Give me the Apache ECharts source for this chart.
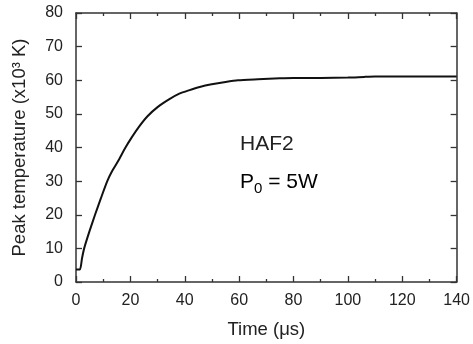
<!DOCTYPE html>
<html><head><meta charset="utf-8">
<script src="https://cdn.jsdelivr.net/npm/echarts@6/dist/echarts.min.js"></script>
<style>html,body{margin:0;padding:0;background:#fff}#c{width:473px;height:344px}</style>
</head><body><div id="c"></div>
<script>
const timeUs = [0, 1.45, 2.2, 3, 5, 7, 9.2, 11.5, 13.3, 15.5, 18.2, 20.5, 23, 26.3, 30, 34.2, 38, 41.5, 45.5, 49.9, 55, 59.6, 66.9, 75, 80, 90, 100, 106, 110, 120, 140];
const peakTemp = [3.7, 3.7, 7, 10, 15.2, 20, 25, 30, 33, 36, 40, 43, 46, 49.3, 52, 54.3, 56, 57, 58, 58.8, 59.5, 60, 60.3, 60.6, 60.7, 60.7, 60.8, 61, 61.1, 61.1, 61.1];
const xTicks = [0, 20, 40, 60, 80, 100, 120, 140];
const yTicks = [0, 10, 20, 30, 40, 50, 60, 70, 80];
const xName = 'Time (\u03bcs)';
const yName = 'Peak temperature (x10\u00b3 K)';
const label1 = 'HAF2';

const font = 'Liberation Sans, Arial, sans-serif';
const axisCol = '#333';
const txtCol = '#222';
const chart = echarts.init(document.getElementById('c'));
const common = {
  axisLine: {show: true, onZero: false, lineStyle: {color: axisCol, width: 1.5}},
  axisTick: {show: true, inside: true, length: 6, lineStyle: {color: axisCol, width: 1.3}},
  splitLine: {show: false}
};
chart.setOption({
  animation: false,
  grid: {left: 76, right: 12, top: 13, bottom: 61},
  xAxis: [
    Object.assign({type: 'value', position: 'bottom', min: xTicks[0], max: xTicks[xTicks.length-1], interval: 20,
      minorTick: {show: true, splitNumber: 2, length: 3, lineStyle: {color: axisCol, width: 1.3}},
      axisLabel: {color: txtCol, fontSize: 16, fontFamily: font, margin: 11},
      name: xName, nameLocation: 'middle', nameGap: 38,
      nameTextStyle: {color: txtCol, fontSize: 18.5, fontFamily: font}}, common),
    Object.assign({type: 'value', position: 'top', min: xTicks[0], max: xTicks[xTicks.length-1], interval: 20,
      minorTick: {show: true, splitNumber: 2, length: 3, lineStyle: {color: axisCol, width: 1.3}},
      axisLabel: {show: false}}, common)
  ],
  yAxis: [
    Object.assign({type: 'value', position: 'left', min: yTicks[0], max: yTicks[yTicks.length-1], interval: 10,
      axisLabel: {color: txtCol, fontSize: 16, fontFamily: font, margin: 13},
      name: yName, nameLocation: 'middle', nameGap: 47,
      nameTextStyle: {color: txtCol, fontSize: 18.5, fontFamily: font}}, common),
    Object.assign({type: 'value', position: 'right', min: yTicks[0], max: yTicks[yTicks.length-1], interval: 10,
      axisLabel: {show: false}}, common)
  ],
  graphic: [
    {type: 'text', left: 240, top: 134, style: {text: label1, font: '21px Liberation Sans, Arial, sans-serif', fill: txtCol}},
    {type: 'text', left: 240, top: 172, style: {
      text: '{a|P}{s|0}{a| = 5W}',
      rich: {
        a: {fontSize: 21, fontFamily: font, color: txtCol},
        s: {fontSize: 15, fontFamily: font, color: txtCol, padding: [12, 0, 0, 0]}
      }}}
  ],
  series: [{
    type: 'line', xAxisIndex: 0, yAxisIndex: 0, smooth: 0.2, showSymbol: false,
    lineStyle: {color: '#111', width: 2},
    data: timeUs.map((t, i) => [t, peakTemp[i]])
  }]
});
</script></body></html>
